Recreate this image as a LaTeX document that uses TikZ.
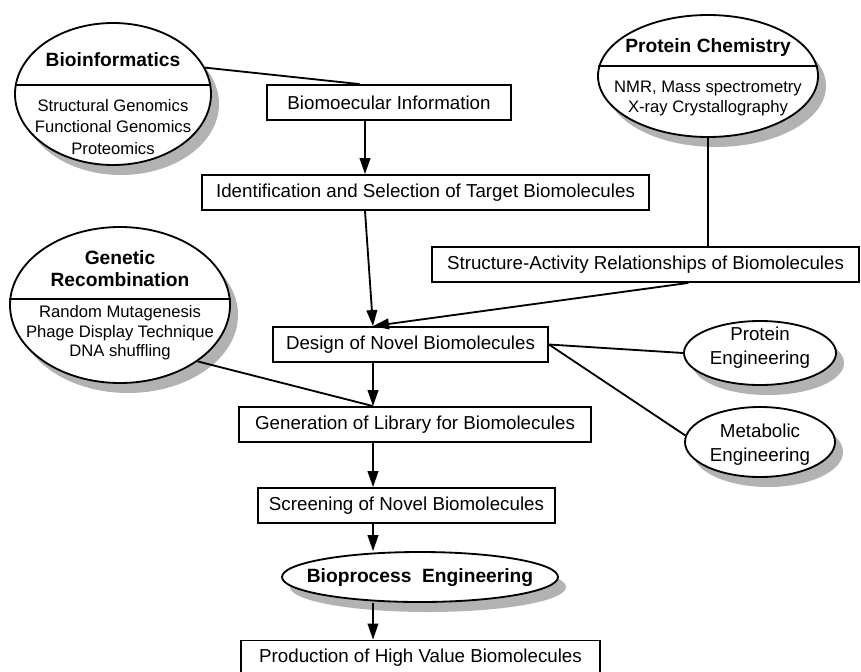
\documentclass[tikz,border=0pt]{standalone}
\usepackage{fontspec}
\setmainfont{Liberation Sans}
\usetikzlibrary{arrows.meta,positioning,calc,shapes.geometric,shadows}
\tikzset{
  stepbox/.style = {draw, line width=0.55mm, rectangle, fill=white, inner sep=0pt,
                    minimum height=10.5mm, font=\fontsize{16}{19}\selectfont},
  blob/.style    = {draw, line width=0.55mm, ellipse, fill=white, inner sep=0pt,
                    drop shadow={shadow xshift=2.4mm, shadow yshift=-3mm, fill=gray!60, opacity=1}},
  head/.style    = {font=\fontsize{16.4}{18.7}\selectfont\bfseries, align=center, inner sep=0pt},
  sub/.style     = {font=\fontsize{14.2}{18.4}\selectfont, align=center, inner sep=0pt},
  plain/.style   = {font=\fontsize{16}{21}\selectfont, align=center, inner sep=0pt},
  flow/.style    = {-{Triangle[length=4.8mm,width=3.2mm]}, line width=0.55mm},
  link/.style    = {line width=0.55mm},
}
\begin{document}
\begin{tikzpicture}[x=0.3mm,y=-0.3mm]
\useasboundingbox (0,0) rectangle (861,671);
\coordinate (spine) at (373,0);
\coordinate (spinetop) at (365,0);
% main chain of boxes
\node[stepbox,minimum width=73.2mm]  (info)   at (389,102.5) {Biomoecular Information};
\node[stepbox,minimum width=134.1mm] (ident)  at (425.5,192.5) {Identification and Selection of Target Biomolecules};
\node[stepbox,minimum width=128.1mm] (sar)    at (645.5,264.5) {Structure-Activity Relationships of Biomolecules};
\node[stepbox,minimum width=82.5mm]  (design) at (410.5,344.5) {Design of Novel Biomolecules};
\node[stepbox,minimum width=105.6mm] (lib)    at (415,424.5) {Generation of Library for Biomolecules};
\node[stepbox,minimum width=89.1mm]  (screen) at (406.5,505.5) {Screening of Novel Biomolecules};
\node[stepbox,minimum width=107.7mm] (prod)   at (420.5,658) {Production of High Value Biomolecules};
% source ellipses
\node[blob,minimum width=58.8mm,minimum height=42.6mm] (bio) at (113,94) {};
\node[head] (biohead) at (113,60) {Bioinformatics};
\node[sub]  (biosub)  at (113,127) {Structural Genomics\\Functional Genomics\\Proteomics};
\draw[link] (bio.5) -- (bio.175);
\node[blob,minimum width=66mm,minimum height=36.6mm] (pchem) at (708,76) {};
\node[head] (pchemhead) at (708,48) {Protein Chemistry};
\node[sub,font=\fontsize{14.2}{17.9}\selectfont] (pchemsub) at (708,98.5) {NMR, Mass spectrometry\\X-ray Crystallography};
\draw[link] (pchem.5) -- (pchem.175);
\node[blob,minimum width=66mm,minimum height=46.8mm] (gen) at (120,305) {};
\node[head] (genhead) at (120,269) {Genetic\\Recombination};
\node[sub,font=\fontsize{14.2}{16.6}\selectfont] (gensub) at (120,333) {Random Mutagenesis\\Phage Display Technique\\DNA shuffling};
\draw[link] (gen.3) -- (gen.177);
% engineering ellipses
\node[blob,minimum width=45.6mm,minimum height=19.2mm] (peng) at (760,353) {};
\node[plain] (pengtext) at (760,347.5) {Protein\\Engineering};
\node[blob,minimum width=45mm,minimum height=21mm] (meng) at (760,442) {};
\node[plain,font=\fontsize{16}{20.4}\selectfont] (mengtext) at (760,445) {Metabolic\\Engineering};
\node[blob,minimum width=82.8mm,minimum height=15mm] (bioproc) at (420,577) {};
\node[head] (bioproctext) at (420,578) {Bioprocess\ \ Engineering};
% connectors
\draw[link] (bio.16) -- ($(info.north west)!.38!(info.north east)$);
\draw[flow] (info.south -| spinetop) -- (ident.north -| spinetop);
\draw[flow] (ident.south -| spinetop) -- (design.north -| spine);
\draw[link] (pchem.south) -- (sar.north -| pchem.south);
\draw[flow] ($(sar.south west)!.6!(sar.south east)$) -- (design.north -| spine);
\draw[link] (gen.-36) -- (lib.north -| spine);
\draw[link] (design.east) -- (peng.west);
\draw[link] (design.east) -- (meng.175);
\foreach \a/\b in {design/lib, lib/screen, screen/bioproc, bioproc/prod}
  \draw[flow] (\a.south -| spine) -- (\b.north -| spine);
\end{tikzpicture}
\end{document}
